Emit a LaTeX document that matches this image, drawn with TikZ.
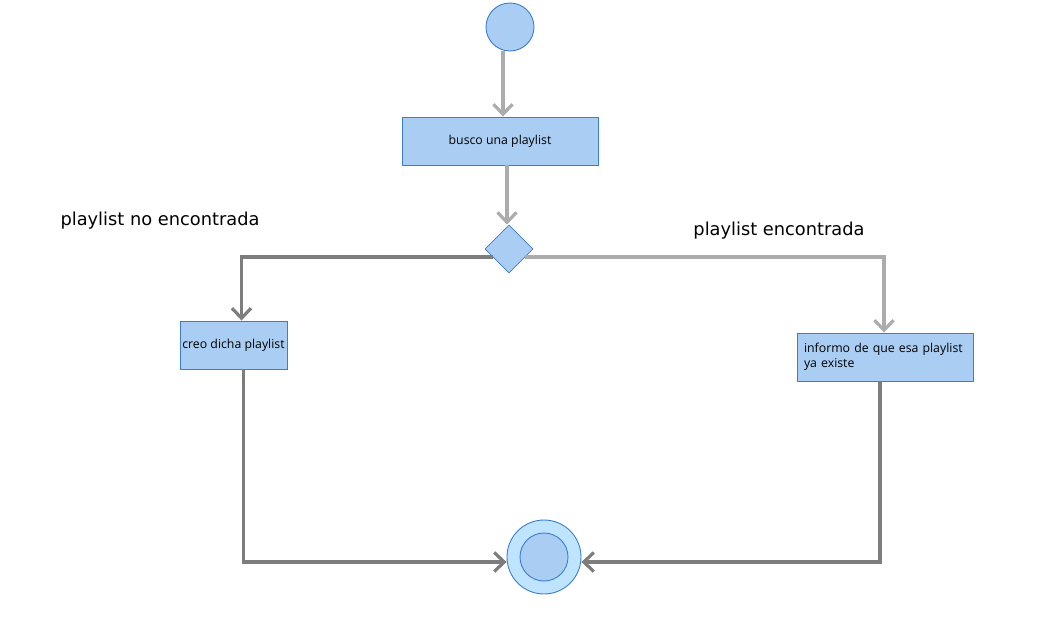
\documentclass[tikz,border=0pt]{standalone}
\usepackage{fontspec}
\setmainfont{Open Sans}
\newfontfamily\labelfont{DejaVu Sans}
\usetikzlibrary{arrows.meta,shapes.geometric,positioning,calc}
\definecolor{actfill}{RGB}{170,206,243}
\definecolor{actdraw}{RGB}{60,125,205}
\definecolor{endfill}{RGB}{190,228,255}
\definecolor{flowlight}{RGB}{172,172,172}
\definecolor{flowdark}{RGB}{125,125,125}
\begin{document}
\begin{tikzpicture}[x=1pt, y=-1pt,
            action/.style={rectangle, draw=actdraw, fill=actfill, line width=0.9pt, font=\fontsize{12.3}{15}\selectfont, inner sep=0pt},
            flow/.style={-{Straight Barb[length=10pt, width=19pt, line width=3.2pt]}, line width=3.2pt, color=flowlight},
            flowd/.style={flow, color=flowdark},
            guard/.style={font=\labelfont\fontsize{17.8}{20}\selectfont}
        ]
            \useasboundingbox (0,0) rectangle (1060,628);
            \node[circle, draw=actdraw, fill=actfill, line width=0.9pt, minimum size=48pt, inner sep=0pt] (start) at (510,27) {};
            \node[action, minimum width=196pt, minimum height=48pt] (busco) at (500,141) {busco una playlist};
            \node[diamond, draw=actdraw, fill=actfill, line width=0.7pt, minimum size=48pt, inner sep=0pt] (dec) at (509,249) {};
            \node[action, minimum width=107pt, minimum height=48pt] (creo) at (233.5,345) {creo dicha playlist};
            \node[action, minimum width=176pt, minimum height=48pt, align=left, text width=162pt] (informo) at (885,357) {informo de que esa playlist\\ya existe};
            \node[circle, draw=actdraw, fill=endfill, line width=0.9pt, minimum size=74pt, inner sep=0pt] (fin) at (544,557) {};
            \node[circle, draw=actdraw, fill=actfill, line width=0.9pt, minimum size=48pt, inner sep=0pt] at (fin) {};
            \node[guard] (no) at (160,221) {playlist no encontrada};
            \node[guard] (si) at (779,231) {playlist encontrada};
            \draw[flow] ([xshift=-7pt]start.south) -- ([xshift=3pt]busco.north);
            \draw[flow] ([xshift=7pt]busco.south) -- ([xshift=-2pt]dec.north);
            \draw[flowd] ([xshift=-16pt,yshift=-8pt]dec.center) -| ([xshift=8pt]creo.north);
            \draw[flow] ([xshift=16pt,yshift=-8pt]dec.center) -| ([xshift=-1pt]informo.north);
            \draw[flowd] ([xshift=10pt]creo.south) |- ([yshift=-5pt]fin.west);
            \draw[flowd] ([xshift=-5pt]informo.south) |- ([yshift=-5pt]fin.east);
        \end{tikzpicture}
\end{document}
